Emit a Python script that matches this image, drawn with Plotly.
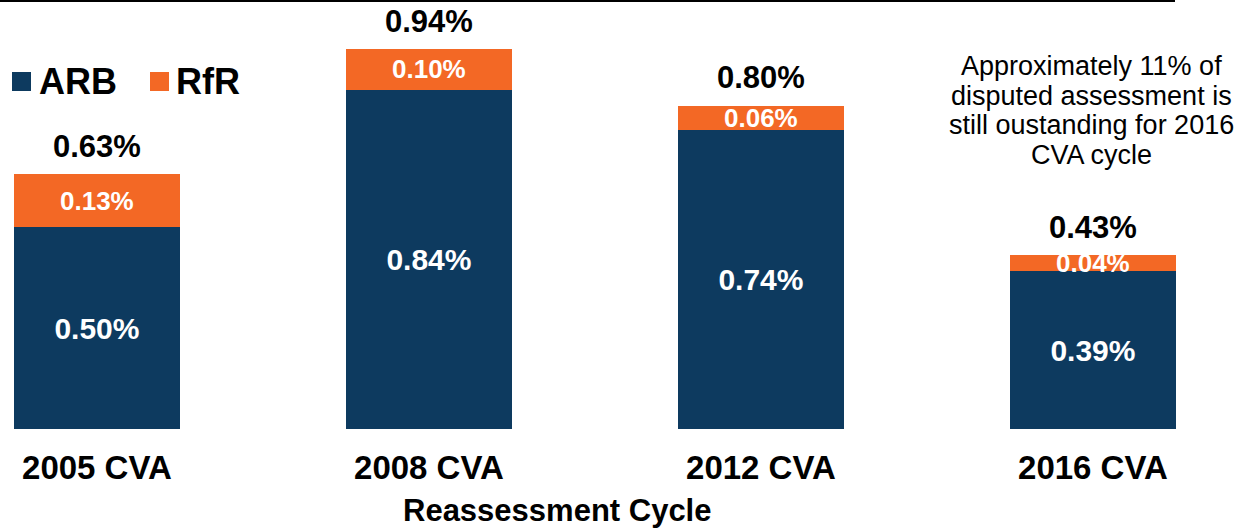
import plotly.graph_objects as go

# values (percent)
cycles = ["2005 CVA", "2008 CVA", "2012 CVA", "2016 CVA"]
arb = [0.50, 0.84, 0.74, 0.39]
rfr = [0.13, 0.10, 0.06, 0.04]
totals = [0.63, 0.94, 0.80, 0.43]
note_lines = ["Approximately 11% of", "disputed assessment is",
              "still oustanding for 2016", "CVA cycle"]

ARB_C, RFR_C = "#0D3A5F", "#F36825"
FONT = "Liberation Sans, Arial, sans-serif"
W, H = 1245, 529
PLOT_H = 429  # pixel height of the plot area (t=0, b=100)


def px_y(p):
    """pixel row -> paper y"""
    return (PLOT_H - p) / PLOT_H


fig = go.Figure()
fig.add_trace(go.Bar(
    x=cycles, y=arb, name="ARB", marker=dict(color=ARB_C, line=dict(width=0)),
    width=0.5, text=[f"{v:.2f}%" for v in arb], textposition="inside",
    insidetextanchor="middle",
    textfont=dict(family=FONT, size=30, color="white", weight="bold"),
    showlegend=False, hoverinfo="skip"))
fig.add_trace(go.Bar(
    x=cycles, y=rfr, name="RfR", marker=dict(color=RFR_C, line=dict(width=0)),
    width=0.5, textposition="none", showlegend=False, hoverinfo="skip"))

ann = []
# RfR labels (kept at full size even where the segment is thin)
for c, a, r in zip(cycles, arb, rfr):
    ann.append(dict(x=c, y=a + r / 2, text=f"<b>{r:.2f}%</b>", showarrow=False,
                    yanchor="middle", font=dict(family=FONT, size=26, color="white")))
# stack totals
for c, t in zip(cycles, totals):
    ann.append(dict(x=c, y=t, text=f"<b>{t:.2f}%</b>", showarrow=False,
                    yanchor="middle", yshift=28,
                    font=dict(family=FONT, size=31, color="black")))
# note on the right
for i, line in enumerate(note_lines):
    ann.append(dict(xref="paper", yref="paper", x=1091 / W, y=px_y(66 + 29.7 * i),
                    text=line, showarrow=False, xanchor="center", yanchor="middle",
                    font=dict(family=FONT, size=27, color="black")))
# legend text
for lbl, xp in [("ARB", 37), ("RfR", 174)]:
    ann.append(dict(xref="paper", yref="paper", x=xp / W, y=px_y(81),
                    text=f"<b>{lbl}</b>", showarrow=False, xanchor="left",
                    yanchor="middle", font=dict(family=FONT, size=36, color="black")))
# axis title
ann.append(dict(xref="paper", yref="paper", x=557 / W, y=px_y(510),
                text="<b>Reassessment Cycle</b>", showarrow=False,
                xanchor="center", yanchor="middle", borderpad=0,
                font=dict(family=FONT, size=31, color="black")))

shapes = [
    dict(type="line", xref="paper", yref="paper", x0=0, x1=1175 / W,
         y0=px_y(1), y1=px_y(1), line=dict(color="black", width=2)),
]
for col, x0 in [(ARB_C, 12), (RFR_C, 150)]:
    shapes.append(dict(type="rect", xref="paper", yref="paper",
                       x0=x0 / W, x1=(x0 + 19) / W, y0=px_y(91), y1=px_y(72),
                       fillcolor=col, line=dict(width=0)))

fig.update_layout(
    width=W, height=H, barmode="stack",
    margin=dict(l=0, r=0, t=0, b=100),
    paper_bgcolor="white", plot_bgcolor="white",
    annotations=ann, shapes=shapes,
    xaxis=dict(range=[-0.292, 3.458], showgrid=False, zeroline=False,
               showline=False, ticks="", ticklabelstandoff=16,
               tickfont=dict(family=FONT, size=33, color="black", weight="bold")),
    yaxis=dict(range=[0, PLOT_H / 404], visible=False, fixedrange=True),
)

fig.write_html("out.html", config={"displayModeBar": False},
               post_script="document.body.style.margin='0px';")
